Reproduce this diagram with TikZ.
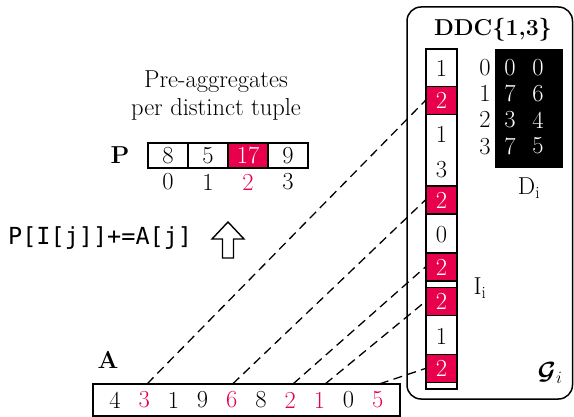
\documentclass[tikz,border=0pt]{standalone}
\usepackage{fontspec}
\setmonofont{DejaVu Sans Mono}
\usepackage{amsmath}
\usepackage{bm}
\definecolor{hl}{HTML}{E8004D}
\tikzset{
    txt/.style={font=\fontsize{24.5}{27}\selectfont, inner sep=0pt},
    pcell/.style={txt, draw, line width=1.2pt, minimum width=40pt, minimum height=25pt},
    hlcell/.style={pcell, fill=hl, text=white},
    icell/.style={txt, draw, line width=1.2pt, fill=hl, text=white, minimum width=31pt, minimum height=28pt},
    link/.style={dash pattern=on 9pt off 5.5pt, line width=1.3pt}
}
\begin{document}
\begin{tikzpicture}[x=1pt,y=-1pt]
    \useasboundingbox (0,0) rectangle (574,417);
    % header text and P array
    \node[txt, align=center] (title) at (216,96) {Pre-aggregates\\[1pt]per distinct tuple};
    \node[txt] (plabel) at (120,155) {\textbf{P}};
    \node[pcell] (p0) at (168,155.5) {8};
    \node[pcell] (p1) at (208,155.5) {5};
    \node[hlcell] (p2) at (248,155.5) {17};
    \node[pcell] (p3) at (288,155.5) {9};
    \foreach \i in {0,1,3}
        \node[txt] at (168+40*\i,182) {\i};
    \node[txt, text=hl] at (248,182) {2};
    % update rule
    \node[txt, font=\fontsize{23.5}{26}\selectfont, anchor=west] (rule) at (8,238) {\ttfamily P[I[j]]+=A[j]};
    \draw[line width=1.4pt, line join=miter] (228,222) -- (244,239) -- (233.5,239) -- (233.5,258)
        -- (222.5,258) -- (222.5,239) -- (212,239) -- cycle;
    % array A
    \node[txt] (alabel) at (108,360) {\textbf{A}};
    \draw[line width=1.3pt] (93,384) rectangle (400,416);
    \foreach \v/\c [count=\i from 0] in {4/black,3/hl,1/black,9/black,6/hl,8/black,2/hl,1/hl,0/black,5/hl}
        \node[txt, text=\c, minimum height=32pt] (a\i) at (115+29.2*\i,400) {\v};
    % group box
    \node[txt, font=\fontsize{23}{26}\selectfont] (ddc) at (493,30) {\textbf{DDC\{1,3\}}};
    \node[draw, line width=1.2pt, minimum width=31pt, minimum height=340pt, inner sep=0pt] (icol) at (441.5,219) {};
    \node[icell] (r1) at (441.5,100.5) {2};
    \node[icell] (r2) at (441.5,200) {2};
    \node[icell] (r3) at (441.5,267) {2};
    \node[icell] (r4) at (441.5,301.5) {2};
    \node[icell] (r5) at (441.5,368.5) {2};
    \foreach \v/\y in {1/68,1/134,3/170,0/235,1/336}
        \node[txt] at (441.5,\y) {\v};
    \node[txt] (ilabel) at (480,288) {I$_{\text{i}}$};
    % dictionary D_i
    \fill (495,49) rectangle (563,168);
    \foreach \k/\u/\w [count=\r from 0] in {0/0/0,1/7/6,2/3/4,3/7/5} {
        \node[txt] at (485,67.5+26.2*\r) {\k};
        \node[txt, text=white] at (510,67.5+26.2*\r) {\u};
        \node[txt, text=white] at (538,67.5+26.2*\r) {\w};
    }
    \node[txt] (dlabel) at (529,188) {D$_{\text{i}}$};
    \node[txt] (glabel) at (550,373) {$\bm{\mathcal{G}}_i$};
    % links from A to I_i
    \draw[link] ([xshift=3pt]a1.north) -- (r1.west);
    \draw[link] ([xshift=1pt]a4.north) -- (r2.west);
    \draw[link] ([xshift=3pt]a6.north) -- (r3.west);
    \draw[link] ([xshift=6pt]a7.north) -- (r4.west);
    \draw[link] ([xshift=2pt]a9.north) -- (r5.west);
    \draw[line width=1.5pt, rounded corners=14pt] (407,7) rectangle (572.5,399);
\end{tikzpicture}
\end{document}
